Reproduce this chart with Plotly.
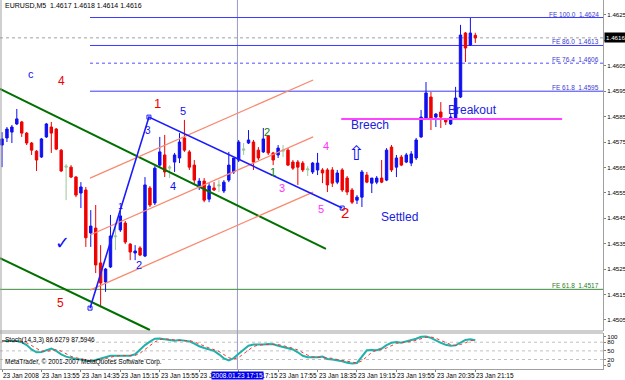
import plotly.graph_objects as go

# ---------------- data (EURUSD M5, 23 Jan 2008, bars from 13:15) ----------------
opens = [1.45738, 1.45766, 1.45789, 1.45821, 1.45829, 1.45785, 1.45746, 1.45714, 1.45691, 1.45770,
         1.45809, 1.45801, 1.45718, 1.45651, 1.45651, 1.45612, 1.45549, 1.45561, 1.45392, 1.45411,
         1.45274, 1.45199, 1.45258, 1.45377, 1.45404, 1.45431, 1.45348, 1.45313, 1.45333, 1.45301,
         1.45569, 1.45510, 1.45659, 1.45699, 1.45647, 1.45671, 1.45687, 1.45766, 1.45711, 1.45659,
         1.45577, 1.45596, 1.45525, 1.45569, 1.45577, 1.45557, 1.45600, 1.45632, 1.45679, 1.45718,
         1.45746, 1.45750, 1.45718, 1.45711, 1.45774, 1.45707, 1.45699, 1.45714, 1.45718, 1.45671,
         1.45671, 1.45667, 1.45640, 1.45632, 1.45640, 1.45640, 1.45640, 1.45640, 1.45592, 1.45640,
         1.45608, 1.45561, 1.45521, 1.45533, 1.45620, 1.45588, 1.45592, 1.45608, 1.45600, 1.45730,
         1.45651, 1.45691, 1.45671, 1.45667, 1.45687, 1.45770, 1.45844, 1.45927, 1.45848, 1.45868,
         1.45837, 1.45821, 1.45844, 1.45927, 1.46179, 1.46132, 1.46170]
highs = [1.45789, 1.45809, 1.45817, 1.45880, 1.45833, 1.45789, 1.45750, 1.45718, 1.45766, 1.45825,
         1.45829, 1.45805, 1.45722, 1.45663, 1.45659, 1.45616, 1.45592, 1.45573, 1.45482, 1.45502,
         1.45344, 1.45254, 1.45463, 1.45415, 1.45482, 1.45439, 1.45352, 1.45344, 1.45340, 1.45612,
         1.45577, 1.45655, 1.45770, 1.45778, 1.45659, 1.45707, 1.45785, 1.45837, 1.45718, 1.45679,
         1.45608, 1.45608, 1.45588, 1.45592, 1.45600, 1.45600, 1.45711, 1.45687, 1.45758, 1.45746,
         1.45797, 1.45758, 1.45730, 1.45805, 1.45778, 1.45711, 1.45738, 1.45738, 1.45726, 1.45679,
         1.45679, 1.45675, 1.45655, 1.45671, 1.45707, 1.45647, 1.45647, 1.45651, 1.45640, 1.45647,
         1.45616, 1.45569, 1.45541, 1.45640, 1.45632, 1.45608, 1.45616, 1.45679, 1.45726, 1.45738,
         1.45699, 1.45699, 1.45707, 1.45714, 1.45766, 1.45876, 1.45986, 1.45947, 1.45864, 1.45907,
         1.45844, 1.45860, 1.45967, 1.46211, 1.46183, 1.46238, 1.46180]
lows = [1.45651, 1.45750, 1.45746, 1.45817, 1.45770, 1.45738, 1.45699, 1.45636, 1.45687, 1.45766,
        1.45707, 1.45718, 1.45632, 1.45521, 1.45608, 1.45533, 1.45490, 1.45337, 1.45337, 1.45234,
        1.45100, 1.45160, 1.45254, 1.45325, 1.45396, 1.45348, 1.45285, 1.45285, 1.45301, 1.45297,
        1.45494, 1.45502, 1.45651, 1.45612, 1.45608, 1.45632, 1.45667, 1.45711, 1.45640, 1.45581,
        1.45561, 1.45513, 1.45513, 1.45557, 1.45553, 1.45549, 1.45592, 1.45624, 1.45671, 1.45699,
        1.45742, 1.45640, 1.45679, 1.45707, 1.45699, 1.45659, 1.45687, 1.45691, 1.45655, 1.45640,
        1.45581, 1.45632, 1.45616, 1.45624, 1.45620, 1.45588, 1.45553, 1.45573, 1.45584, 1.45553,
        1.45541, 1.45506, 1.45506, 1.45494, 1.45588, 1.45549, 1.45584, 1.45588, 1.45596, 1.45632,
        1.45612, 1.45655, 1.45667, 1.45655, 1.45679, 1.45766, 1.45837, 1.45797, 1.45809, 1.45805,
        1.45817, 1.45817, 1.45837, 1.45923, 1.46065, 1.46128, 1.46140]
closes = [1.45762, 1.45801, 1.45809, 1.45841, 1.45785, 1.45746, 1.45718, 1.45679, 1.45762, 1.45821,
          1.45785, 1.45722, 1.45636, 1.45655, 1.45612, 1.45541, 1.45573, 1.45373, 1.45419, 1.45266,
          1.45195, 1.45250, 1.45380, 1.45380, 1.45459, 1.45356, 1.45317, 1.45321, 1.45305, 1.45581,
          1.45502, 1.45647, 1.45711, 1.45632, 1.45651, 1.45699, 1.45750, 1.45718, 1.45651, 1.45600,
          1.45596, 1.45521, 1.45577, 1.45561, 1.45581, 1.45592, 1.45659, 1.45687, 1.45750, 1.45722,
          1.45758, 1.45671, 1.45687, 1.45762, 1.45707, 1.45679, 1.45726, 1.45718, 1.45659, 1.45647,
          1.45651, 1.45640, 1.45644, 1.45667, 1.45667, 1.45628, 1.45581, 1.45588, 1.45628, 1.45561,
          1.45553, 1.45513, 1.45533, 1.45632, 1.45592, 1.45608, 1.45608, 1.45592, 1.45718, 1.45640,
          1.45687, 1.45659, 1.45699, 1.45703, 1.45758, 1.45848, 1.45943, 1.45844, 1.45860, 1.45848,
          1.45829, 1.45848, 1.45923, 1.46171, 1.46120, 1.46179, 1.46160]
doji_bars = [13, 23, 34, 44, 49, 57, 62]

stoch_k = [84, 84, 85, 84, 80, 70, 55, 45, 46, 53, 58, 50, 38, 30, 25, 22, 20, 16, 13, 18,
           23, 29, 33, 33, 33, 32, 33, 38, 55, 70, 82, 92, 93, 90, 86, 85, 88, 86, 83, 75,
           66, 60, 55, 50, 38, 24, 17, 25, 40, 55, 68, 72, 71, 72, 74, 73, 68, 63, 60, 55,
           45, 33, 28, 27, 28, 30, 22, 20, 18, 14, 9, 6, 8, 30, 52, 53, 52, 58, 70, 78,
           81, 78, 82, 87, 92, 99, 100, 95, 86, 78, 71, 68, 69, 78, 88, 90, 87]
stoch_d = [85, 84, 84, 84, 83, 78, 68, 57, 49, 48, 52, 54, 49, 39, 31, 26, 22, 19, 16, 16,
           18, 23, 28, 32, 33, 33, 33, 34, 42, 54, 69, 81, 89, 92, 90, 87, 86, 86, 86, 81,
           75, 67, 60, 55, 48, 37, 26, 22, 27, 40, 54, 65, 70, 72, 72, 73, 72, 68, 64, 59,
           53, 44, 35, 29, 28, 28, 27, 24, 20, 17, 14, 10, 8, 15, 30, 45, 52, 54, 60, 69,
           76, 79, 80, 82, 87, 93, 97, 98, 94, 86, 78, 72, 69, 72, 78, 85, 88]
stoch_levels = [20, 50, 80]

time_tick_bars = [0, 8, 16, 24, 32, 40, 48, 56, 64, 72, 80, 88, 96]
time_tick_labels = ["23 Jan 2008", "23 Jan 13:55", "23 Jan 14:35", "23 Jan 15:15", "23 Jan 15:55",
                    "23 Jan 16:35", "23 Jan 17:15", "23 Jan 17:55", "23 Jan 18:35", "23 Jan 19:15",
                    "23 Jan 19:55", "23 Jan 20:35", "23 Jan 21:15"]
price_ticks = [1.4505, 1.4515, 1.4525, 1.4535, 1.4545, 1.4555, 1.4565, 1.4575, 1.4585,
               1.4595, 1.4605, 1.4615, 1.4625]
stoch_ticks = [0, 20, 50, 80, 100]

# Fibo expansion levels (label, price)
fe_names = ["FE 100.0", "FE 86.0", "FE 76.4", "FE 61.8"]
fe_prices = [1.4624, 1.4613, 1.4606, 1.4595]
fe_green_name = "FE 61.8"
fe_green_price = 1.4517
bid_price = 1.4616
breech_price = 1.45841

# drawn objects: (bar, price) anchors
fibo_bars = [17.85, 29.8, 69.0]
fibo_prices = [1.45096, 1.45848, 1.45490]
chan_green_hi_bars = [-0.41, 65.7]
chan_green_hi_prices = [1.45959, 1.45329]
chan_green_lo_bars = [-0.41, 30.0]
chan_green_lo_prices = [1.45293, 1.45010]
chan_orange_bars = [17.85, 63.1]
chan_orange_top = [1.45608, 1.45994]
chan_orange_mid = [1.45384, 1.45770]
chan_orange_bot = [1.45167, 1.45553]
breech_bars = [68.8, 113.6]
vline_bar = 47.75
fe_start_bar = 17.85

# ---------------- figure ----------------
BLUE = "#1010f0"
RED = "#f00000"
XR = [-0.41, 121.9]
MAIN_DOM = [1 - 331 / 380, 1.0]
STO_DOM = [11 / 380, 47 / 380]
XDOM = [0, 603 / 625]
FONT = "Liberation Sans, Arial, sans-serif"

n = len(opens)
idx = list(range(n))
norm = [i for i in idx if i not in doji_bars]

fig = go.Figure()

fig.add_trace(go.Scatter(x=chan_green_hi_bars, y=chan_green_hi_prices, mode="lines",
                         line=dict(color="#007000", width=2), hoverinfo="skip"))
fig.add_trace(go.Scatter(x=chan_green_lo_bars, y=chan_green_lo_prices, mode="lines",
                         line=dict(color="#007000", width=2), hoverinfo="skip"))
for ys in (chan_orange_top, chan_orange_mid, chan_orange_bot):
    fig.add_trace(go.Scatter(x=chan_orange_bars, y=ys, mode="lines",
                             line=dict(color="#f88a70", width=1.3), hoverinfo="skip"))

fig.add_trace(go.Candlestick(
    x=[idx[i] for i in norm], open=[opens[i] for i in norm], high=[highs[i] for i in norm],
    low=[lows[i] for i in norm], close=[closes[i] for i in norm],
    increasing=dict(line=dict(color=BLUE, width=1), fillcolor=BLUE),
    decreasing=dict(line=dict(color=RED, width=1), fillcolor=RED),
    whiskerwidth=0, hoverinfo="skip"))
fig.add_trace(go.Candlestick(
    x=[idx[i] for i in doji_bars], open=[opens[i] for i in doji_bars], high=[highs[i] for i in doji_bars],
    low=[lows[i] for i in doji_bars], close=[closes[i] for i in doji_bars],
    increasing=dict(line=dict(color="#9cc79c", width=1), fillcolor="#9cc79c"),
    decreasing=dict(line=dict(color="#9cc79c", width=1), fillcolor="#9cc79c"),
    whiskerwidth=0, hoverinfo="skip"))

fig.add_trace(go.Scatter(x=fibo_bars, y=fibo_prices, mode="lines+markers",
                         line=dict(color="#1a1aff", width=1.6),
                         marker=dict(symbol="square-open", size=4, color="#1a1aff"), hoverinfo="skip"))
fig.add_trace(go.Scatter(x=breech_bars, y=[breech_price, breech_price], mode="lines",
                         line=dict(color="#ff44ff", width=2), hoverinfo="skip"))

fig.add_trace(go.Scatter(x=idx, y=stoch_k, mode="lines", xaxis="x2", yaxis="y2",
                         line=dict(color="#20b2aa", width=2), hoverinfo="skip"))
fig.add_trace(go.Scatter(x=idx, y=stoch_d, mode="lines", xaxis="x2", yaxis="y2",
                         line=dict(color="#ff3030", width=1, dash="dot"), hoverinfo="skip"))

shapes = []
for nm, p in zip(fe_names, fe_prices):
    dotted = nm == "FE 76.4"
    shapes.append(dict(type="line", xref="x", yref="y", x0=fe_start_bar, x1=XR[1], y0=p, y1=p,
                       line=dict(color="#8a8aff" if dotted else "#3a3aff", width=1.3 if dotted else 1,
                                 dash="dot" if dotted else "solid"), layer="below"))
shapes.append(dict(type="line", xref="x", yref="y", x0=XR[0], x1=XR[1], y0=fe_green_price,
                   y1=fe_green_price, line=dict(color="#3c8c3c", width=1), layer="below"))
shapes.append(dict(type="line", xref="x", yref="y", x0=XR[0], x1=XR[1], y0=bid_price, y1=bid_price,
                   line=dict(color="#a0a0a0", width=1, dash="dot"), layer="below"))
shapes.append(dict(type="line", xref="x", yref="paper", x0=vline_bar, x1=vline_bar,
                   y0=STO_DOM[0], y1=1, line=dict(color="#9a9acc", width=1), layer="below"))
for lv in stoch_levels:
    shapes.append(dict(type="line", xref="x2", yref="y2", x0=XR[0], x1=XR[1], y0=lv, y1=lv,
                       line=dict(color="#c0c0c0", width=1, dash="dot"), layer="below"))
shapes.append(dict(type="line", xref="paper", yref="paper", x0=0.0016, x1=0.0016, y0=STO_DOM[0], y1=1,
                   line=dict(color="#a0a0a0", width=1)))
shapes.append(dict(type="line", xref="paper", yref="paper", x0=0, x1=XDOM[1], y0=STO_DOM[1],
                   y1=STO_DOM[1], line=dict(color="#a0a0a0", width=1)))
shapes.append(dict(type="line", xref="paper", yref="paper", x0=0, x1=XDOM[1], y0=MAIN_DOM[0],
                   y1=MAIN_DOM[0], line=dict(color="#a0a0a0", width=1)))

ann = []
for nm, p in zip(fe_names, fe_prices):
    ann.append(dict(x=XR[1] - 0.4, y=p, xref="x", yref="y", text=f"{nm}  {p:.4f}", showarrow=False,
                    xanchor="right", yanchor="bottom", yshift=-2,
                    font=dict(family=FONT, size=6.5, color="#3a3acc")))
ann.append(dict(x=XR[1] - 0.4, y=fe_green_price, xref="x", yref="y",
                text=f"{fe_green_name}  {fe_green_price:.4f}", showarrow=False,
                xanchor="right", yanchor="bottom", yshift=-2,
                font=dict(family=FONT, size=6.5, color="#2a7a2a")))

# chart text objects: (text, bar, price, color, size)
notes = [("c", 5.9, 1.46018, BLUE, 11), ("4", 12.0, 1.45990, RED, 12),
         ("1", 31.6, 1.45903, RED, 13), ("5", 36.7, 1.45872, BLUE, 11),
         ("3", 29.6, 1.45797, BLUE, 10), ("1", 24.1, 1.45498, BLUE, 9),
         ("4", 34.7, 1.45577, BLUE, 11), ("2", 27.8, 1.45266, BLUE, 11),
         ("✓", 12.2, 1.45352, BLUE, 18), ("5", 11.8, 1.45116, RED, 12),
         ("2", 53.8, 1.45789, "#108010", 11), ("1", 55.0, 1.45632, "#108010", 11),
         ("3", 56.8, 1.45569, "#ff30ff", 11), ("4", 65.7, 1.45734, "#ff30ff", 11),
         ("5", 64.7, 1.45486, "#ff30ff", 11), ("2", 69.6, 1.45474, RED, 15),
         ("⇧", 71.8, 1.45707, BLUE, 20), ("Breech", 74.6, 1.45817, "#2020e0", 12),
         ("Settled", 80.7, 1.45455, "#2020e0", 12), ("Breakout", 95.5, 1.45876, "#2020e0", 12)]
for t, bx, py, col, sz in notes:
    ann.append(dict(x=bx, y=py, xref="x", yref="y", text=t, showarrow=False,
                    font=dict(family=FONT, size=sz, color=col)))

# time axis labels (left-aligned at their bar, as in MetaTrader)
for b, lab in zip(time_tick_bars, time_tick_labels):
    ann.append(dict(x=b, y=1 - 375 / 380, xref="x2", yref="paper", xanchor="left", yanchor="middle",
                    xshift=-1, text=lab, showarrow=False, font=dict(family=FONT, size=6.5, color="#000000")))

ann.append(dict(x=3 / 625, y=1 - 5 / 380, xref="paper", yref="paper", xanchor="left", yanchor="middle",
                text="EURUSD,M5  1.4617 1.4618 1.4614 1.4616", showarrow=False,
                font=dict(family=FONT, size=7, color="#000000")))
ann.append(dict(x=3 / 625, y=1 - 340 / 380, xref="paper", yref="paper", xanchor="left", yanchor="middle",
                text="Stoch(14,3,3) 86.6279 87.5946", showarrow=False,
                font=dict(family=FONT, size=6.5, color="#000000")))
ann.append(dict(x=3 / 625, y=1 - 362 / 380, xref="paper", yref="paper", xanchor="left", yanchor="middle",
                text="MetaTrader, © 2001-2007 MetaQuotes Software Corp.", showarrow=False,
                font=dict(family=FONT, size=6.5, color="#000000")))
ann.append(dict(x=XDOM[1], y=bid_price, xref="paper", yref="y", xanchor="left", yanchor="middle",
                xshift=1, text="1.4616", showarrow=False, bgcolor="#000000", borderpad=1,
                font=dict(family=FONT, size=6.2, color="#ffffff")))
ann.append(dict(x=vline_bar, y=1 - 375 / 380, xref="x2", yref="paper", xanchor="center", yanchor="middle",
                text="2008.01.23 17:15", showarrow=False, bgcolor="#0000ee", borderpad=0,
                font=dict(family=FONT, size=6.5, color="#ffffff")))

# the 1.4615 tick label sits under the bid-price box, so it is left blank
price_tick_text = ["" if abs(v - 1.4615) < 1e-9 else f"{v:.4f}" for v in price_ticks]

axfont = dict(family=FONT, size=6.2, color="#000000")
fig.update_layout(
    width=625, height=380, margin=dict(l=0, r=0, t=0, b=0),
    paper_bgcolor="#ffffff", plot_bgcolor="#ffffff", showlegend=False,
    shapes=shapes, annotations=ann,
    xaxis=dict(domain=XDOM, range=XR, anchor="y", showticklabels=False, showgrid=False,
               zeroline=False, showline=False, ticks="", rangeslider=dict(visible=False)),
    yaxis=dict(domain=MAIN_DOM, range=[1.45006, 1.46309], anchor="x", side="right",
               tickvals=price_ticks, ticktext=price_tick_text,
               showgrid=False, zeroline=False, showline=True, linecolor="#a0a0a0", linewidth=1,
               ticks="outside", ticklen=2, tickcolor="#808080", tickfont=axfont, automargin=False),
    xaxis2=dict(domain=XDOM, range=XR, anchor="y2", matches="x", tickvals=time_tick_bars,
                showticklabels=False, showgrid=False,
                zeroline=False, showline=True, linecolor="#a0a0a0", ticks="outside", ticklen=2,
                tickcolor="#808080", automargin=False, rangeslider=dict(visible=False)),
    yaxis2=dict(domain=STO_DOM, range=[-13, 112], anchor="x2", side="right", tickvals=stoch_ticks,
                showgrid=False, zeroline=False, showline=True, linecolor="#a0a0a0",
                ticks="outside", ticklen=2, tickcolor="#808080", tickfont=axfont, automargin=False),
)

fig.write_html("out.html", config={"displayModeBar": False})
